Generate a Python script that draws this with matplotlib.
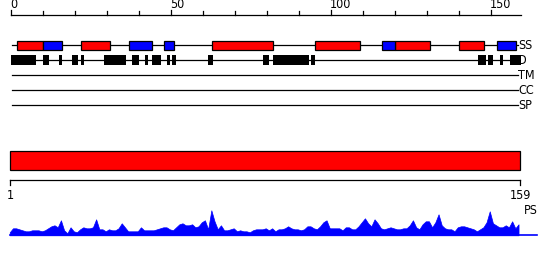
import numpy as np
import matplotlib
matplotlib.use("Agg")
import matplotlib.pyplot as plt
from matplotlib.patches import Rectangle

seq_len = 159

# secondary structure segments (start, end) in residues
ss_helix = [(2, 10), (22, 31), (63, 82), (95, 109), (120, 131), (140, 148)]
ss_strand = [(10, 16), (37, 44), (48, 51), (116, 120), (152, 158)]

# disorder segments
disorder = [(0, 8), (10, 12), (15, 16), (19, 21), (22, 23), (29, 36), (38, 40),
            (42, 43), (44, 47), (48.8, 49.8), (50.4, 51.7), (61.7, 63.2),
            (78.8, 80.8), (82, 93.1), (93.8, 95), (146, 148.4), (149, 150.6),
            (152.8, 153.9), (156, 159.4)]

row_labels = ["SS", "D", "TM", "CC", "SP"]
top_ticks = [0, 50, 100, 150]

# per-residue PS profile
ps = [3, 7, 7, 6, 5, 4, 4, 5, 5, 5,
      4, 5, 7, 9, 10, 8, 15, 5, 2, 8,
      4, 3, 6, 8, 7, 7, 8, 16, 6, 6,
      4, 6, 5, 5, 7, 12, 8, 4, 4, 4,
      4, 8, 5, 5, 5, 5, 6, 7, 8, 8,
      6, 5, 8, 11, 12, 10, 10, 11, 8, 9,
      13, 15, 6, 25, 14, 6, 10, 5, 5, 6,
      7, 4, 5, 4, 4, 3, 5, 6, 6, 6,
      7, 5, 7, 4, 6, 6, 7, 9, 7, 6,
      6, 5, 6, 9, 9, 7, 6, 9, 13, 15,
      7, 7, 7, 7, 5, 8, 8, 6, 6, 9,
      13, 17, 12, 9, 16, 12, 7, 6, 7, 8,
      7, 6, 6, 7, 7, 10, 15, 8, 6, 11,
      14, 14, 8, 13, 21, 10, 7, 6, 6, 4,
      8, 9, 9, 8, 7, 6, 4, 6, 8, 13,
      24, 12, 10, 8, 8, 10, 8, 14, 7, 11]

plt.rcParams["font.stretch"] = "condensed"

fig = plt.figure(figsize=(5.5, 2.6), dpi=100)
ax = fig.add_axes([0, 0, 1, 1])
ax.set_xlim(-10.7 / 3.2, (550 - 10.7) / 3.2)
ax.set_ylim(260, 0)
ax.axis("off")

fs = 9
lw = 0.9

# top ruler
ruler_y = 14.7
ax.plot([0, seq_len + 0.4], [ruler_y, ruler_y], color="black", lw=lw)
for t in range(0, seq_len + 1, 10):
    top = 9.5 if t % 50 == 0 else 11.2
    ax.plot([t, t], [ruler_y, top], color="black", lw=lw)
for t in top_ticks:
    ax.text(t - 0.2, 5, str(t), fontsize=fs, ha="left", va="center", color="black")

# feature rows
row_y = [45.3, 60.3, 75.3, 90.0, 105.3]
for y, lab in zip(row_y, row_labels):
    ax.plot([0.3, 158.4], [y, y], color="black", lw=lw, zorder=1)
    ax.text(158.6, y, lab, fontsize=fs, ha="left", va="center")

box_h = 9.3
for s, e in ss_helix:
    ax.add_patch(Rectangle((s, row_y[0] - box_h / 2), e - s, box_h,
                           facecolor="#ff0000", edgecolor="black", lw=lw, zorder=2))
for s, e in ss_strand:
    ax.add_patch(Rectangle((s, row_y[0] - box_h / 2), e - s, box_h,
                           facecolor="#0000ff", edgecolor="black", lw=lw, zorder=2))
for s, e in disorder:
    ax.add_patch(Rectangle((s, row_y[1] - 5), e - s, 10,
                           facecolor="black", edgecolor="black", lw=0, zorder=2))

# full-length domain bar
ax.add_patch(Rectangle((-0.1, 150.7), seq_len + 0.4, 19.6,
                       facecolor="#ff0000", edgecolor="black", lw=lw))

# bottom ruler
by = 180.3
ax.plot([-0.1, seq_len + 0.3], [by, by], color="black", lw=lw)
ax.plot([-0.1, -0.1], [by, 185], color="black", lw=lw)
ax.plot([seq_len + 0.3, seq_len + 0.3], [by, 185], color="black", lw=lw)
ax.text(0, 195.5, "1", fontsize=fs, ha="center", va="center")
ax.text(seq_len + 0.3, 195.5, str(seq_len), fontsize=fs, ha="center", va="center")
ax.text(160.4, 210.7, "PS", fontsize=fs, ha="left", va="center")

# PS profile
base = 235.3
x = np.arange(len(ps)) - 0.3
ax.fill_between(x, base, base - np.array(ps), color="#0000ff", lw=0.5)
ax.plot([-0.1, 164.4], [base, base], color="#0000ff", lw=1.2)

fig.savefig("out.png", dpi=100)
